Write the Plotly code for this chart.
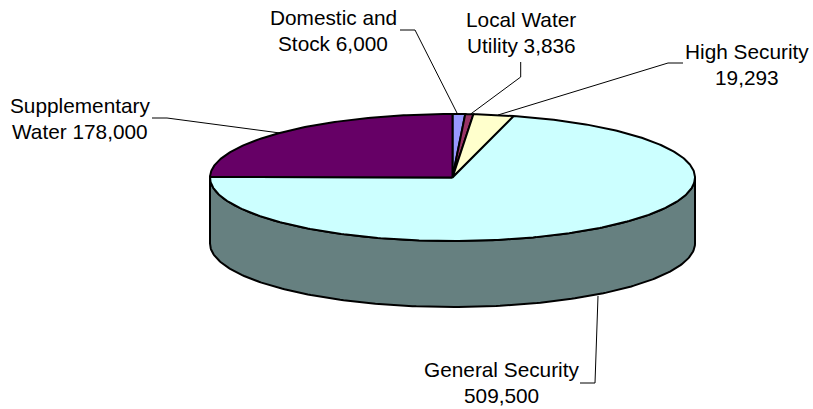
import numpy as np
import plotly.graph_objects as go

names = ["Domestic and Stock", "Local Water Utility", "High Security", "General Security", "Supplementary Water"]
values = [6000, 3836, 19293, 509500, 178000]
colors = ["#9999FF", "#993366", "#FFFFCC", "#CCFFFF", "#660066"]
side_color = "#668080"
label_lines = [
    ["Domestic and", "Stock 6,000"],
    ["Local Water", "Utility 3,836"],
    ["High Security", "19,293"],
    ["General Security", "509,500"],
    ["Supplementary", "Water 178,000"],
]

W, H = 813, 409
CX, CY, RX, RY, DEPTH = 452.5, 177.5, 242.5, 63.5, 66
FONT = 20.8
LINE_GAP = 26.5

label_pos = [(333, 17), (521, 19), (747, 51), (501, 369), (80, 105)]
leaders = [
    [(400, 30), (415, 30), (457, 113)],
    [(520.7, 62), (520.7, 77), (470.7, 114)],
    [(683, 63), (668, 63), (498, 115)],
    [(580, 383), (595, 383), (598, 296)],
    [(152, 118), (167, 118), (280, 133)],
]

fig = go.Figure()
OUT = dict(color="black", width=2)


def ell(t):
    return CX + RX * np.sin(t), CY - RY * np.cos(t)


# side wall: visible front half of the disc
t = np.linspace(np.pi / 2, 3 * np.pi / 2, 200)
x, y = ell(t)
sx = np.concatenate([x, x[::-1], x[:1]])
sy = np.concatenate([y, y[::-1] + DEPTH, y[:1]])
fig.add_trace(go.Scatter(x=sx, y=sy, mode="lines", fill="toself", fillcolor=side_color,
                         line=OUT, hoverinfo="skip"))

# top wedges, clockwise from twelve o'clock
fracs = np.cumsum([0] + values) / sum(values) * 2 * np.pi
for i in range(len(values)):
    n = max(int((fracs[i + 1] - fracs[i]) * 80), 4)
    t = np.linspace(fracs[i], fracs[i + 1], n)
    x, y = ell(t)
    fig.add_trace(go.Scatter(x=np.r_[CX, x, CX], y=np.r_[CY, y, CY], mode="lines", fill="toself",
                             fillcolor=colors[i], line=OUT, name=names[i], hoverinfo="skip"))

for pts in leaders:
    fig.add_trace(go.Scatter(x=[p[0] for p in pts], y=[p[1] for p in pts], mode="lines",
                             line=dict(color="black", width=1), hoverinfo="skip"))

annotations = []
for lines, (lx, ly) in zip(label_lines, label_pos):
    for j, s in enumerate(lines):
        annotations.append(dict(x=lx, y=ly + j * LINE_GAP, text=s, showarrow=False,
                                xanchor="center", yanchor="middle",
                                font=dict(family="Liberation Sans, Arial", size=FONT, color="black")))

fig.update_layout(
    width=W, height=H, showlegend=False, margin=dict(l=0, r=0, t=0, b=0),
    paper_bgcolor="white", plot_bgcolor="white", annotations=annotations,
    xaxis=dict(range=[0, W], visible=False, fixedrange=True),
    yaxis=dict(range=[H, 0], visible=False, fixedrange=True),
)
fig.write_html("out.html", config={"displayModeBar": False},
               post_script="document.body.style.margin='0';document.documentElement.style.overflow='hidden';")
